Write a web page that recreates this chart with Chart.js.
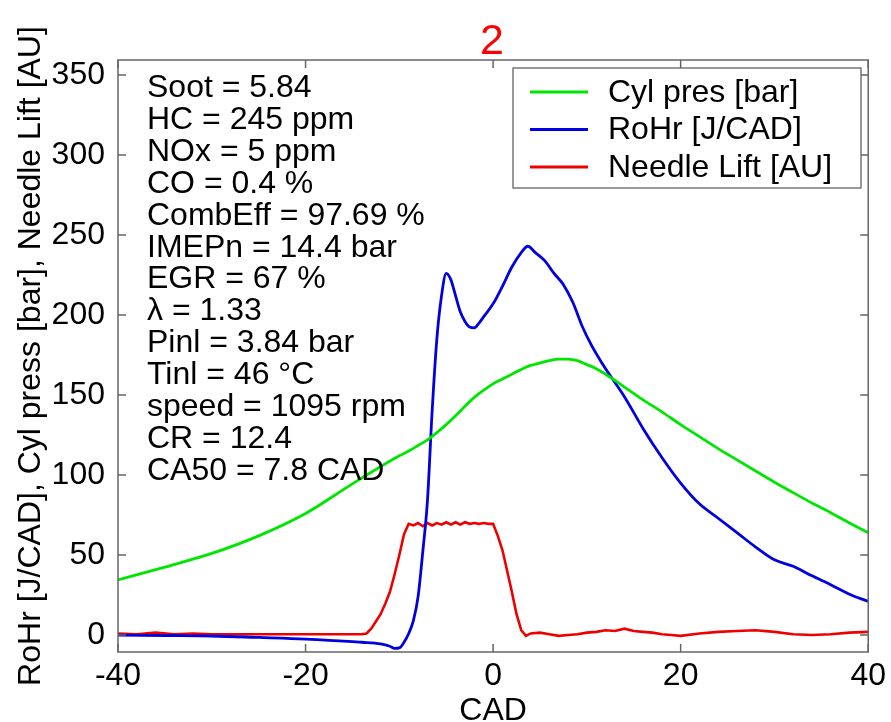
<!DOCTYPE html>
<html>
<head>
<meta charset="utf-8">
<script src="https://cdn.jsdelivr.net/npm/chart.js@4.4.1/dist/chart.umd.min.js"></script>
<style>
  body { margin: 0; background: #fff; }
  canvas { display: block; }
</style>
</head>
<body>
<canvas id="engine-chart" width="891" height="722"></canvas>
<script>
// values
const cadPres = [-40,-35,-30,-25,-20,-15,-10,-9,-8,-7,-6,-5,-4,-3,-2,-1,0,1,2,3,4,5,6,7,8,9,10,11,12,14,16,18,20,22,24,26,28,30,32,34,36,38,40];
const cylPres = [34.5,42.5,51,62,76,94.5,112,115,118.5,122,126.5,131.5,137,143,148.5,153,157,160,163,166,168.5,170,171.5,172.5,172.5,171.5,169,166.5,163,155,147,139.5,131.5,124,116.5,109.5,102.5,95.5,89,82.5,76.5,70,64];

const cadRohr = [-40,-35,-30,-25,-20,-16,-14,-12,-11,-10.5,-10,-9.5,-9,-8.5,-8,-7.5,-7,-6.5,-6,-5.5,-5,-4.5,-4,-3.5,-3,-2.5,-2,-1.5,-1,0,1,2,3,3.7,4.5,5.5,6.5,7.5,8.5,9.5,10.5,11.5,12.5,14,16,18,20,22,24,26,28,30,32,34,36,38,40];
const rohr = [0,-0.3,-0.6,-1.5,-2.5,-3.8,-4.5,-5.5,-7,-8.3,-8,-4.5,1,9,24,52,84,140,185,212,226,222,212,202,196,192.5,192,195,199,207,218,230,239,243,239,234,226,219,208,193,181,171,162,149,129,111,95,82,73,64,55,47,43,37,31.5,25.5,21];

const cadLift = [-40,-38,-36,-34,-32,-30,-26,-22,-18,-15,-14,-13.5,-13,-12.5,-12,-11.5,-11,-10.5,-10,-9.5,-9,-8.5,-8,-7.5,-7,-6.5,-6,-5.5,-5,-4.5,-4,-3.5,-3,-2.5,-2,-1.5,-1,-0.5,0,0.5,1,1.5,2,2.5,3,3.5,4,5,6,7,8,9,10,11,12,13,14,15,16,17,18,19,20,22,24,26,28,30,32,34,36,38,40];
const needleLift = [1,0.5,1.5,0.5,1,0.5,0.5,0.5,0.5,0.5,0.5,1,4,8.5,13,19.5,27,38,50,63,69.5,68.5,70,68,70,68.5,70,69,70.5,69,70.5,69,70.5,69.5,70,69.5,70,69.5,69.5,62,53,40,27,13,3,-0.5,1,1.5,0.5,-0.5,0,0.5,1.5,2,3,2.5,4,2.5,2,1.5,0.5,0,-0.5,1,2,2.5,3,2,0.5,0,0.5,1.5,2];

const xTicks = [-40,-20,0,20,40];
const yTicks = [0,50,100,150,200,250,300,350];

const infoLines = ["Soot = 5.84","HC = 245 ppm","NOx = 5 ppm","CO = 0.4 %","CombEff = 97.69 %","IMEPn = 14.4 bar","EGR = 67 %","\u03bb = 1.33","Pinl = 3.84 bar","Tinl = 46 \u00b0C","speed = 1095 rpm","CR = 12.4","CA50 = 7.8 CAD"];

const FONT = '"Liberation Sans", Arial, sans-serif';

function pts(xs, ys) {
  return xs.map((x, i) => ({x: x, y: ys[i]}));
}

// box, inward ticks, text block, legend and the red title
const extras = {
  id: 'extras',
  afterDraw(chart) {
    const ctx = chart.ctx;
    const a = chart.chartArea;
    const sx = chart.scales.x, sy = chart.scales.y;
    ctx.save();
    ctx.strokeStyle = '#666';
    ctx.lineWidth = 1.5;
    ctx.strokeRect(a.left, a.top, a.right - a.left, a.bottom - a.top);
    ctx.beginPath();
    xTicks.forEach(v => {
      const p = sx.getPixelForValue(v);
      ctx.moveTo(p, a.bottom); ctx.lineTo(p, a.bottom - 8);
      ctx.moveTo(p, a.top); ctx.lineTo(p, a.top + 8);
    });
    yTicks.forEach(v => {
      const p = sy.getPixelForValue(v);
      ctx.moveTo(a.left, p); ctx.lineTo(a.left + 8, p);
      ctx.moveTo(a.right, p); ctx.lineTo(a.right - 8, p);
    });
    ctx.stroke();

    ctx.fillStyle = '#000';
    ctx.font = '32px ' + FONT;
    ctx.textAlign = 'left';
    ctx.textBaseline = 'alphabetic';
    infoLines.forEach((t, i) => ctx.fillText(t, 147, 97 + i * 31.9));

    // legend
    ctx.fillStyle = '#fff';
    ctx.fillRect(513, 68, 348, 120);
    ctx.strokeStyle = '#555';
    ctx.lineWidth = 1.2;
    ctx.strokeRect(513, 68, 348, 120);
    chart.data.datasets.forEach((ds, i) => {
      const y = 92 + i * 37.5;
      ctx.strokeStyle = ds.borderColor;
      ctx.lineWidth = 2.8;
      ctx.beginPath();
      ctx.moveTo(530, y); ctx.lineTo(588, y);
      ctx.stroke();
      ctx.fillStyle = '#000';
      ctx.textBaseline = 'middle';
      ctx.fillText(ds.label, 608, y + 1);
    });

    ctx.fillStyle = '#ff0000';
    ctx.font = '43px ' + FONT;
    ctx.textAlign = 'center';
    ctx.textBaseline = 'alphabetic';
    ctx.fillText('2', 492, 54);
    ctx.restore();
  }
};

const context = document.querySelector('#engine-chart').getContext('2d');
const engineChart = new Chart(context, {
  type: 'line',
  data: {
    datasets: [
      {
        label: 'Cyl pres [bar]',
        data: pts(cadPres, cylPres),
        borderColor: '#00e600',
        borderWidth: 2.8,
        pointRadius: 0,
        cubicInterpolationMode: 'monotone',
        fill: false
      },
      {
        label: 'RoHr [J/CAD]',
        data: pts(cadRohr, rohr),
        borderColor: '#0000e0',
        borderWidth: 2.8,
        pointRadius: 0,
        cubicInterpolationMode: 'monotone',
        fill: false
      },
      {
        label: 'Needle Lift [AU]',
        data: pts(cadLift, needleLift),
        borderColor: '#ee0000',
        borderWidth: 2.6,
        pointRadius: 0,
        tension: 0,
        fill: false
      }
    ]
  },
  options: {
    responsive: false,
    animation: false,
    layout: { padding: { top: 60, right: 21, left: 0, bottom: 0 } },
    plugins: {
      legend: { display: false },
      tooltip: { enabled: false },
      title: { display: false }
    },
    scales: {
      x: {
        type: 'linear',
        min: -40,
        max: 40,
        afterBuildTicks: s => { s.ticks = xTicks.map(v => ({ value: v })); },
        afterFit: s => { s.height = 70; },
        grid: { display: false, drawTicks: false },
        border: { display: false },
        ticks: { color: '#000', padding: 5, maxRotation: 0, font: { family: FONT, size: 32 } },
        title: {
          display: true, text: 'CAD', color: '#000', padding: 0,
          font: { family: FONT, size: 32, lineHeight: 0.7 }
        }
      },
      y: {
        type: 'linear',
        min: -10.6,
        max: 359.4,
        afterBuildTicks: s => { s.ticks = yTicks.map(v => ({ value: v })); },
        afterFit: s => { s.width = 118; },
        grid: { display: false, drawTicks: false },
        border: { display: false },
        ticks: { color: '#000', padding: 13, font: { family: FONT, size: 32 } },
        title: {
          display: true, text: 'RoHr [J/CAD], Cyl press [bar], Needle Lift [AU]', color: '#000',
          padding: { top: 12, bottom: 0 },
          font: { family: FONT, size: 32 }
        }
      }
    }
  },
  plugins: [extras]
});
</script>
</body>
</html>
